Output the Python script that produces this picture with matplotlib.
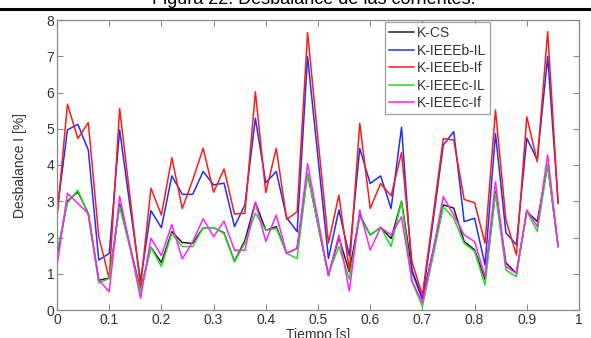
import numpy as np
import matplotlib
matplotlib.use("Agg")
import matplotlib.pyplot as plt
from matplotlib.lines import Line2D

plt.rcParams['font.family'] = ['Liberation Sans', 'DejaVu Sans']

# Time axis (s)
tiempo = [round(0.02 * i, 2) for i in range(49)]

# Current unbalance (%) for each method
k_cs = [1.5, 3.0, 3.26, 2.66, 0.82, 0.88, 2.92, 1.75, 0.55, 1.73, 1.31, 2.16,
        1.86, 1.84, 2.27, 2.27, 2.13, 1.34, 1.92, 2.97, 2.2, 2.3, 1.56, 1.7,
        3.77, 2.35, 0.95, 2.0, 1.05, 2.62, 2.07, 2.28, 1.97, 3.0, 1.1, 0.32,
        1.6, 2.9, 2.81, 1.89, 1.66, 0.85, 3.26, 1.3, 1.01, 2.72, 2.44, 4.0, 1.75]
k_ieeeb_il = [2.7, 4.97, 5.12, 4.41, 1.38, 1.56, 4.97, 2.85, 0.8, 2.74, 2.27, 3.7,
              3.19, 3.19, 3.82, 3.45, 3.5, 2.3, 2.9, 5.29, 3.51, 3.82, 2.55, 2.16,
              6.99, 4.2, 1.42, 2.76, 1.5, 4.46, 3.49, 3.7, 2.8, 5.04, 1.05, 0.3,
              2.4, 4.55, 4.92, 2.44, 2.53, 1.24, 4.87, 2.13, 1.8, 4.74, 4.14, 6.99, 2.95]
k_ieeeb_if = [2.55, 5.68, 4.73, 5.17, 2.02, 0.87, 5.56, 3.1, 0.64, 3.36, 2.62, 4.2,
              2.8, 3.59, 4.46, 3.25, 3.89, 2.65, 2.67, 6.02, 3.24, 4.46, 2.5, 2.71,
              7.65, 4.7, 1.85, 3.17, 1.1, 5.15, 2.8, 3.49, 3.15, 4.34, 1.33, 0.41,
              2.55, 4.73, 4.69, 3.05, 2.96, 1.84, 5.52, 2.48, 1.52, 5.33, 4.09, 7.68, 2.94]
k_ieeec_il = [1.6, 2.95, 3.31, 2.62, 0.74, 0.87, 2.85, 1.7, 0.5, 1.73, 1.2, 2.11,
              1.75, 1.75, 2.27, 2.27, 2.11, 1.33, 1.85, 2.67, 2.2, 2.25, 1.56, 1.42,
              3.77, 2.35, 1.0, 1.75, 0.85, 2.57, 2.07, 2.28, 1.75, 3.0, 0.78, 0.1,
              1.45, 2.85, 2.53, 1.84, 1.62, 0.69, 3.22, 1.1, 0.92, 2.72, 2.17, 4.0, 1.75]
k_ieeec_if = [1.2, 3.22, 2.94, 2.66, 0.83, 0.5, 3.14, 1.75, 0.32, 1.98, 1.5, 2.36,
              1.41, 1.88, 2.52, 2.02, 2.45, 1.65, 1.65, 2.97, 1.89, 2.62, 1.56, 1.7,
              4.04, 2.5, 0.95, 2.07, 0.52, 2.76, 1.65, 2.28, 2.07, 2.57, 0.8, 0.2,
              1.6, 3.13, 2.62, 2.07, 1.89, 0.92, 3.54, 1.2, 1.01, 2.76, 2.3, 4.28, 1.75]

series = [
    ("K-CS", k_cs, "#222222"),
    ("K-IEEEb-IL", k_ieeeb_il, "#1f2fff"),
    ("K-IEEEb-If", k_ieeeb_if, "#ff1a1a"),
    ("K-IEEEc-IL", k_ieeec_il, "#22dd22"),
    ("K-IEEEc-If", k_ieeec_if, "#ff22ff"),
]

W, H = 591, 338
fig = plt.figure(figsize=(W / 100, H / 100), dpi=100)
fig.patch.set_facecolor("white")

# Figure caption (running off the top of the page) and rule line
fig.text(314 / W, 1 - 4 / H, "Figura 22. Desbalance de las corrientes.",
         ha="center", va="baseline", fontsize=13, color="black")
fig.add_artist(Line2D([0, 1], [1 - 8.5 / H, 1 - 8.5 / H], color="black",
                      linewidth=2.2, transform=fig.transFigure))

ax = fig.add_axes([57 / W, (H - 310) / H, 522 / W, 290 / H])

for name, vals, col in series:
    ax.plot(tiempo, vals, color=col, linewidth=1.1, label=name)

ax.set_xlim(0, 1)
ax.set_ylim(0, 8)
ax.set_xticks(np.arange(0, 1.01, 0.1))
ax.set_xticklabels(["0", "0.1", "0.2", "0.3", "0.4", "0.5", "0.6", "0.7", "0.8", "0.9", "1"])
ax.set_yticks(range(0, 9))
ax.tick_params(direction="in", top=True, right=True, length=4, width=0.8,
               colors="#888888", labelcolor="#333333", labelsize=10, pad=2)
for sp in ax.spines.values():
    sp.set_color("#888888")
    sp.set_linewidth(0.9)

ax.set_xlabel("Tiempo [s]", fontsize=10, color="#333333", labelpad=1)
ax.set_ylabel("Desbalance I [%]", fontsize=10, color="#333333", labelpad=14)

leg = ax.legend(loc="upper left", bbox_to_anchor=((385 - 57) / 522, 1.0 - 2 / 290),
                fontsize=10, frameon=True, fancybox=False, handlelength=1.8,
                handletextpad=0.2, borderpad=0.3, labelspacing=0.25,
                borderaxespad=0.0)
leg.get_frame().set_edgecolor("#888888")
leg.get_frame().set_linewidth(0.9)
for t in leg.get_texts():
    t.set_color("#333333")

fig.savefig("out.png", dpi=100, facecolor="white")
